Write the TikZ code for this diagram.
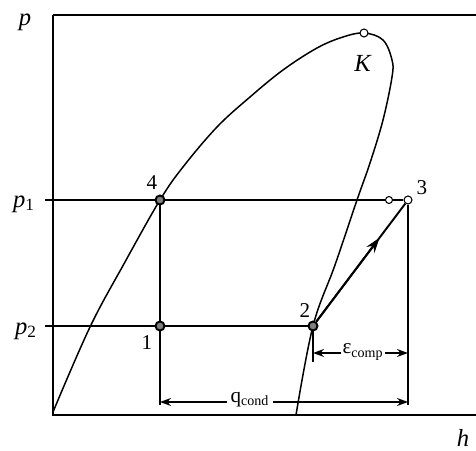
\documentclass[tikz,border=0pt]{standalone}
\usepackage{fontspec}
\setmainfont{Liberation Serif}
\usetikzlibrary{arrows.meta,calc}

\begin{document}
\begin{tikzpicture}[>={Stealth[length=0.22cm,width=0.16cm]},font=\fontsize{12}{14}\selectfont,x=1.000cm,y=1.000cm,
 ln/.style={line width=0.85pt},
 axis/.style={line width=1.5pt},
 pt/.style={draw,circle,line width=1.1pt,inner sep=0pt,minimum size=0.18cm,fill=black!50},
 opt/.style={draw,circle,line width=0.6pt,inner sep=0pt,minimum size=0.16cm,fill=white},
 lab/.style={inner sep=1pt},
 big/.style={inner sep=1pt,font=\fontsize{14}{16}\selectfont},
 dim/.style={inner sep=2pt,fill=white}]
\useasboundingbox (0.000,0.000) rectangle (9.520,9.000);
% saturation curve
\draw[ln] plot[smooth,tension=0.6] coordinates {(1.060,0.760) (1.800,2.460) (2.500,3.760) (3.200,5.000)
 (3.660,5.660) (4.340,6.460) (5.000,7.060) (5.660,7.600) (6.340,8.040) (6.860,8.260) (7.280,8.340)
 (7.660,8.200) (7.840,7.800) (7.840,7.460) (7.660,6.600) (7.400,5.740) (7.140,5.000) (6.700,3.700)
 (6.260,2.480) (5.920,0.700)};
\coordinate (o) at (1.060,0.700);
\coordinate (top) at (1.060,8.700);
\coordinate (topr) at (9.520,8.700);
\coordinate (botr) at (9.520,0.700);
\coordinate (t1) at (0.900,5.000);
\coordinate (t2) at (0.900,2.480);
\coordinate (b4) at (3.200,0.900);
\coordinate (b3) at (8.160,0.900);
\coordinate (q1) at (3.200,0.960);
\coordinate (q2) at (8.160,0.960);
\coordinate (e1) at (6.260,1.940);
\coordinate (e2) at (8.160,1.940);
\coordinate (e0) at (6.260,1.760);
\draw[axis] (top) -- (o) -- (botr);
\draw[ln] (top) -- (topr);
\node[pt] (p4) at (3.200,5.000) {};
\node[pt] (p1) at (3.200,2.480) {};
\node[pt] (p2) at (6.260,2.480) {};
\node[opt] (p3) at (8.160,5.000) {};
\node[opt,minimum size=0.14cm] (p3a) at (7.780,5.000) {};
\node[opt] (k) at (7.280,8.340) {};
\draw[ln] (t1) -- (p4) -- (p3a) -- (p3);
\draw[ln] (t2) -- (p1) -- (p2);
\draw[ln] (p4) -- (p1) -- (b4);
\draw[ln] (p3) -- (b3);
\draw[ln] (p2) -- (e0);
\draw[line width=1.1pt] (p2) -- (p3);
\draw[line width=1.1pt,->,>={Stealth[length=0.3cm,width=0.2cm]}] (p2) -- ($(p2)!0.7!(p3)$);
\draw[ln,<->] (q1) -- (q2);
\draw[ln,<->] (e1) -- (e2);
\node[dim] (lq) at (5.000,1.000) {q\textsubscript{cond}};
\node[dim,inner sep=1pt] (le) at (7.260,1.960) {ε\textsubscript{comp}};
\node[big] (lp) at (0.500,8.560) {\textit{p}};
\node[big] (lp1) at (0.480,4.920) {\textit{p}\textsubscript{1}};
\node[big] (lp2) at (0.520,2.380) {\textit{p}\textsubscript{2}};
\node[big] (lh) at (9.260,0.240) {\textit{h}};
\node[lab] (l4) at (3.040,5.340) {4};
\node[lab] (l1) at (2.940,2.140) {1};
\node[lab] (l2) at (6.100,2.780) {2};
\node[lab] (l3) at (8.440,5.240) {3};
\node[big] (lk) at (7.260,7.740) {\textit{K}};
\end{tikzpicture}
\end{document}
